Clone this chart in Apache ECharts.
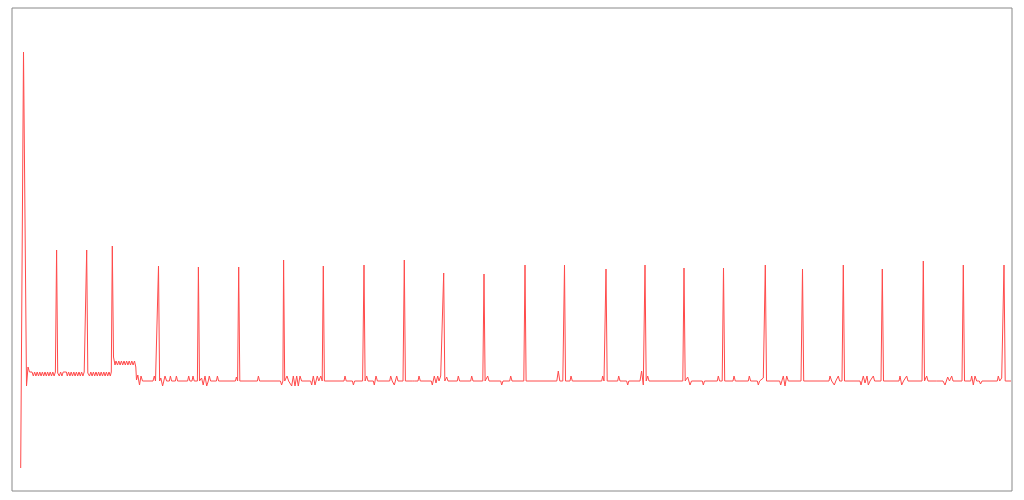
<!DOCTYPE html>
<html>
<head>
<meta charset="utf-8">
<script src="https://cdn.jsdelivr.net/npm/echarts@6/dist/echarts.min.js"></script>
<style>html,body{margin:0;padding:0;background:#fff;}#chart{width:1024px;height:500px;}</style>
</head>
<body>
<div id="chart"></div>
<script>
// [sample index, amplitude]
const onsetPoints = [
  [8.7,-87],[11.5,329],[14.5,-5],[16,14],[17.5,9],[20,9],
  [21.3,5],[22.6,9],[23.9,5],[25.2,9],[26.5,5],[27.8,9],[29.1,5],[30.4,9],[31.7,5],[33,9],
  [34.3,5],[35.6,9],[36.9,5],[38.2,9],[39.5,5],[40.8,9],[42.1,5],[43.4,9],
  [44.6,131],[45.7,8],
  [46.6,9],[47.3,5],[48.6,9],[49.9,5],[51.2,9],[54.4,9],[55.3,5],[56.6,9],[57.9,5],[59.2,9],
  [60.5,5],[61.8,9],[63.1,5],[64.4,9],[65.7,5],[67,9],[68.3,5],[69.6,9],[70.9,5],[72.2,9],[73.6,8],
  [74.7,131],[75.8,8],
  [76.2,9],[77.5,5],[78.8,9],[80.1,5],[81.4,9],[82.7,5],[84,9],[85.3,5],[86.6,9],[87.9,5],
  [89.2,9],[90.5,5],[91.8,9],[93.1,5],[94.4,9],[95.7,5],[97,9],[98.3,5],[99.3,9],
  [100.3,135],[101.5,24],[103,16],[104,20],
  [105.5,16],[106.8,20],[108.1,16],[109.4,20],[110.7,16],[112,20],[113.3,16],[114.6,20],
  [115.9,16],[117.2,20],[118.5,16],[119.8,20],[121.1,16],[122.5,20],[123.8,14],
  [124.5,1],[125.8,6],[127.5,-4],[129,5],[130.5,0],[141,0],[142.3,5],[143.5,0],[145.3,0]
];
const steadyPoints = [
  [146.5,115],[147.6,0],[148.8,3],[150.6,-5],[153,5],[154.6,0],[157.4,0],[158.4,5],[159.6,0],
  [163.4,0],[164.4,5],[165.6,0],[175.6,0],[176.7,5],[177.9,0],[180,0],[181,5],[182.2,0],[185.4,0],
  [186.4,114],[187.5,0],[189.6,3],[191.2,-4],[193,5],[194.7,-5],[196.3,0],[197.3,5],[198.6,0],
  [204.4,0],[205.4,5],[206.6,0],[223.4,0],[224.4,4],[225.6,0],
  [226.7,114],[227.8,0],[245.4,0],[246.4,5],[247.6,0],[268.4,0],[269.6,-4],[270.9,0],
  [271.6,121],[272.7,0],[275,5],[276.6,0],[279.7,-5],[281.3,5],[283,-5],[284.7,5],[286.3,-5],[288,5],[289.6,0],
  [298.6,0],[299.7,-4],[301.3,5],[303,-4],[305.3,5],[306.8,0],[308,0],[308.8,5],[310.2,0],
  [311.3,115],[312.4,0],[332,0],[333,5],[334.2,0],[340.4,0],[341.4,-4],[342.6,0],[350.6,0],
  [352,116],[353.1,0],[354.7,5],[356,0],[361.3,0],[362.3,-4],[364,5],[365.4,0],[377.7,0],[378.7,5],[380.2,0],
  [382.3,-4],[384.7,5],[386,0],[391,0],
  [392.3,121],[393.4,0],[400.3,0],[401.3,-2],[402.6,0],[406,0],[407,5],[408.3,0],[419.3,0],[420.3,-4],
  [422.3,5],[424,-2],[425.7,5],[427,0],[428.7,5],[430.3,3],
  [431.7,108],[432.8,0],[434.7,4],[436,0],[445.3,0],[446.3,5],[447.6,0],[458.7,0],[459.7,5],[461,0],[470.8,0],
  [472,107],[473.1,0],[475.7,5],[477,0],[488.7,0],[489.7,-4],[491,0],[497.7,0],[498.7,5],[500,0],[511.8,0],
  [513,116],[514.1,0],[544.8,0],[546.3,10],[547.8,0],[550.8,0],
  [552.5,116],[553.5,0],[558,0],[559,5],[560.3,0],[589.7,0],[590.7,5],[592,0],[593,0],
  [594,112],[595.2,0],[605.7,0],[606.7,5],[608,0],[614.6,0],[615.7,-4],[616.8,0],[628,0],[629.6,10],[631.3,-4],
  [633,116],[634.2,0],[635.7,5],[637,0],[670.8,0],
  [672,113],[673.2,0],[675.7,4],[678,-4],[679.5,0],[690.3,0],[691.3,-4],[692.5,0],[705.3,0],[706.3,5],[707.6,0],[710.2,0],
  [711.5,113],[712.7,0],[721,0],[722,5],[723.3,0],[736.3,0],[737.3,5],[738.6,0],[745.3,0],[746.3,-4],[747.6,0],[751.3,3],
  [753.3,116],[754.5,0],[767.7,0],[768.7,-4],[771.3,5],[773,-5],[774.7,5],[776.3,0],[789,0],
  [790.5,112],[791.7,0],[817,0],[818,5],[819.7,0],[822.3,-4],[823.8,0],[826.3,5],[827.6,0],[830,0],
  [831.3,116],[832.5,0],[848,0],[849,-4],[851.3,5],[853,-2],[855,5],[856.3,-4],[858,0],[861.3,5],[862.6,0],[869,0],
  [870.3,112],[871.5,0],[887,0],[888,5],[889.7,-4],[891.5,0],[894.7,5],[896,0],[910,0],
  [911.3,120],[912.5,0],[914.7,5],[916,0],[924.3,0],[925.3,-1],[931,0],[933,-4],[935.7,4],[937.5,0],[939.7,5],[941,0],[950,0],
  [951.3,116],[952.5,0],[958.7,0],[959.7,5],[961.3,-4],[963,5],[964.7,0],[967.3,0],[968.5,-3],[970,0],
  [985.3,0],[986.3,5],[987.7,0],[989.7,3],
  [992,116],[993.2,0],[999,0]
];
const signalPoints = onsetPoints.concat(steadyPoints);

const chart = echarts.init(document.getElementById('chart'), null, {renderer: 'canvas'});
chart.setOption({
  animation: false,
  backgroundColor: '#ffffff',
  grid: {left: 12, right: 12, top: 8, bottom: 9, show: true, borderColor: '#888888', borderWidth: 1, backgroundColor: 'transparent'},
  xAxis: {type: 'value', min: 0, max: 1000, show: false},
  yAxis: {type: 'value', min: -110, max: 373, show: false},
  series: [{
    type: 'line',
    data: signalPoints,
    showSymbol: false,
    symbol: 'none',
    lineStyle: {color: '#ff4a4a', width: 1},
    itemStyle: {color: '#ff4a4a'}
  }]
});
</script>
</body>
</html>
